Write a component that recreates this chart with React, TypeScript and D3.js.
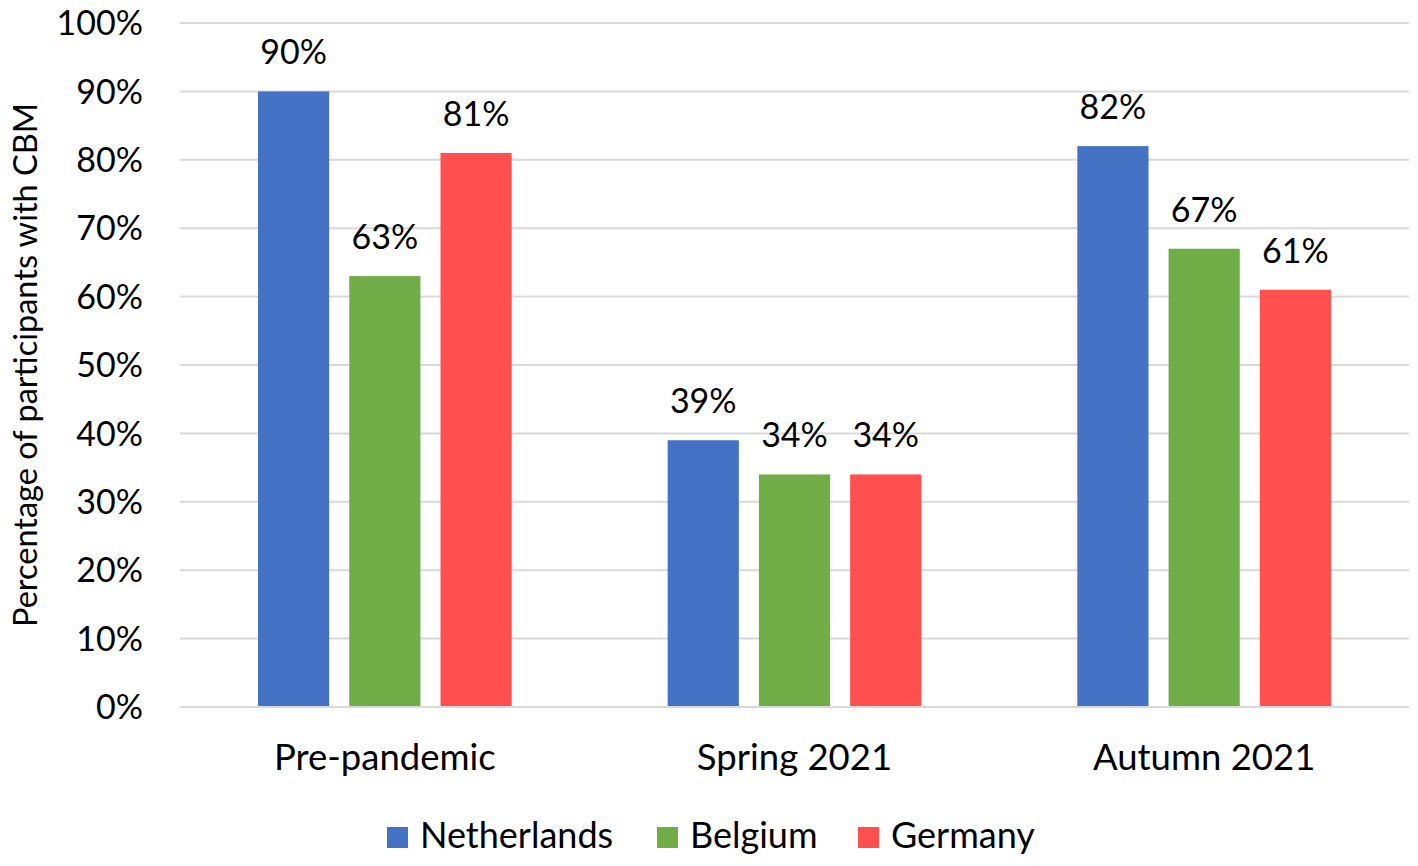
import React from "react";
import * as d3 from "d3";

const categories = ["Pre-pandemic", "Spring 2021", "Autumn 2021"];
const seriesNames = ["Netherlands", "Belgium", "Germany"];
const netherlands = [90, 39, 82];
const belgium = [63, 34, 67];
const germany = [81, 34, 61];
const colors = ["#4472C4", "#70AD47", "#FF4F4F"];
const yTicks = [0, 10, 20, 30, 40, 50, 60, 70, 80, 90, 100];
const yTitle = "Percentage of participants with CBM";

const W = 1418;
const H = 866;
const FONT = "Lato, 'Open Sans', sans-serif";

export default function App() {
  const series = [netherlands, belgium, germany];
  const x0 = d3.scaleBand<string>().domain(categories).range([180, 1409]).paddingInner(0).paddingOuter(0);
  const x1 = d3
    .scaleBand<string>()
    .domain(seriesNames)
    .range([78, x0.bandwidth() - 78])
    .paddingInner(0.22)
    .paddingOuter(0);
  const y = d3.scaleLinear().domain([0, 100]).range([707, 23]);

  return (
    <svg
      width={W}
      height={H}
      style={{ position: "absolute", left: 0, top: 0, background: "#fff" }}
      fontFamily={FONT}
    >
      <rect x={0} y={0} width={W} height={H} fill="#fff" />
      {yTicks.map((t) => (
        <g key={t}>
          <line x1={180} x2={1409} y1={y(t)} y2={y(t)} stroke="#D9D9D9" strokeWidth={2} />
          <text x={143} y={y(t)} dy="0.36em" textAnchor="end" fontSize={34} fill="#000">
            {t}%
          </text>
        </g>
      ))}
      {categories.map((c, ci) => (
        <g key={c} transform={`translate(${x0(c)},0)`}>
          {seriesNames.map((s, si) => {
            const v = series[si][ci];
            const bx = x1(s)!;
            return (
              <g key={s}>
                <rect x={bx} y={y(v)} width={x1.bandwidth()} height={y(0) - y(v)} fill={colors[si]} />
                <text
                  x={bx + x1.bandwidth() / 2}
                  y={y(v) - 27}
                  textAnchor="middle"
                  fontSize={34}
                  fill="#000"
                >
                  {v}%
                </text>
              </g>
            );
          })}
          <text x={x0.bandwidth() / 2} y={770} textAnchor="middle" fontSize={36.5} fill="#000">
            {c}
          </text>
        </g>
      ))}
      <line x1={180} x2={1409} y1={y(0)} y2={y(0)} stroke="#D9D9D9" strokeWidth={2} />
      <text
        transform={`translate(37, ${(y(0) + y(100)) / 2}) rotate(-90)`}
        textAnchor="middle"
        fontSize={32.5}
        fill="#000"
      >
        {yTitle}
      </text>
      {(() => {
        const starts = [387, 657, 858];
        return seriesNames.map((s, i) => (
          <g key={s}>
            <rect x={starts[i]} y={827} width={21} height={21} fill={colors[i]} />
            <text x={starts[i] + 33} y={848} fontSize={36} fill="#000">
              {s}
            </text>
          </g>
        ));
      })()}
    </svg>
  );
}
